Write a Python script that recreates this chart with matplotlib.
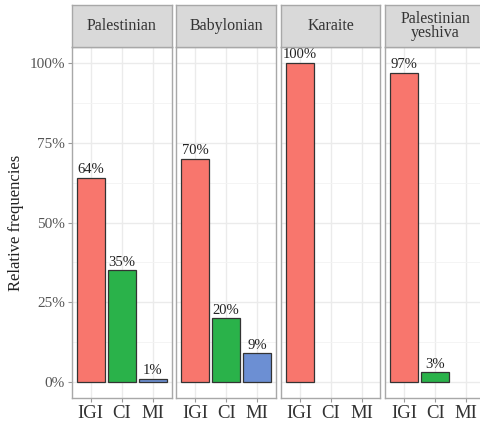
import matplotlib
matplotlib.use("Agg")
import matplotlib.pyplot as plt

# data
panels = ["Palestinian", "Babylonian", "Karaite", "Palestinian\nyeshiva"]
categories = ["IGI", "CI", "MI"]
values = {
    "Palestinian": [64, 35, 1],
    "Babylonian": [70, 20, 9],
    "Karaite": [100, 0, 0],
    "Palestinian\nyeshiva": [97, 3, 0],
}
y_ticks = [0, 25, 50, 75, 100]
y_tick_labels = ["0%", "25%", "50%", "75%", "100%"]

bar_colors = ["#F8766D", "#2AB24A", "#6C8FD3"]
border = "#A8A8A8"
grid_col = "#EBEBEB"
plt.rcParams["font.family"] = ["Liberation Serif", "DejaVu Serif"]

W, H = 481, 426
fig = plt.figure(figsize=(W / 100, H / 100), dpi=100)

lefts = [72, 176.5, 281, 385.5]
pw = 99.5
p_top, p_bot = 47, 398
s_top = 5

for i, name in enumerate(panels):
    ax = fig.add_axes([lefts[i] / W, 1 - p_bot / H, pw / W, (p_bot - p_top) / H])
    vals = values[name]
    pos = list(range(len(categories)))
    # only bars with a count are drawn (ggplot drops the empty ones)
    keep = [j for j, v in enumerate(vals) if v > 0]
    ax.bar([pos[j] for j in keep], [vals[j] for j in keep], width=0.9,
           color=[bar_colors[j] for j in keep], edgecolor="#333333", linewidth=0.9, zorder=3)
    for j in keep:
        ax.text(pos[j], vals[j] + 0.5, f"{vals[j]}%", ha="center", va="bottom", fontsize=10.5,
                color="#222222", zorder=4)
    ax.set_xlim(-0.6, 2.6)
    ax.set_ylim(-5, 105)
    ax.set_xticks(pos)
    ax.set_xticklabels(categories, fontsize=13.5, color="#333333")
    ax.set_yticks(y_ticks)
    ax.set_yticks([12.5, 37.5, 62.5, 87.5], minor=True)
    ax.grid(True, which="major", color=grid_col, linewidth=1.0, zorder=0)
    ax.grid(True, which="minor", axis="y", color="#F3F3F3", linewidth=0.6, zorder=0)
    ax.tick_params(axis="x", length=3, color="#999999", pad=2)
    ax.tick_params(which="minor", length=0)
    if i == 0:
        ax.set_yticklabels(y_tick_labels, fontsize=11, color="#555555")
        ax.tick_params(axis="y", length=3, color="#999999", pad=2)
        ax.set_ylabel("Relative frequencies", fontsize=12, color="#222222", labelpad=4)
    else:
        ax.tick_params(axis="y", length=0, labelleft=False)
    for sp in ax.spines.values():
        sp.set_color(border)
        sp.set_linewidth(1.0)

    sax = fig.add_axes([lefts[i] / W, 1 - p_top / H, pw / W, (p_top - s_top) / H])
    sax.set_xticks([])
    sax.set_yticks([])
    sax.set_facecolor("#D9D9D9")
    for sp in sax.spines.values():
        sp.set_color(border)
        sp.set_linewidth(1.0)
    sax.text(0.5, 0.5, name, ha="center", va="center", fontsize=11.5, color="#333333",
             linespacing=0.9, transform=sax.transAxes)

fig.savefig("out.png", dpi=100)
